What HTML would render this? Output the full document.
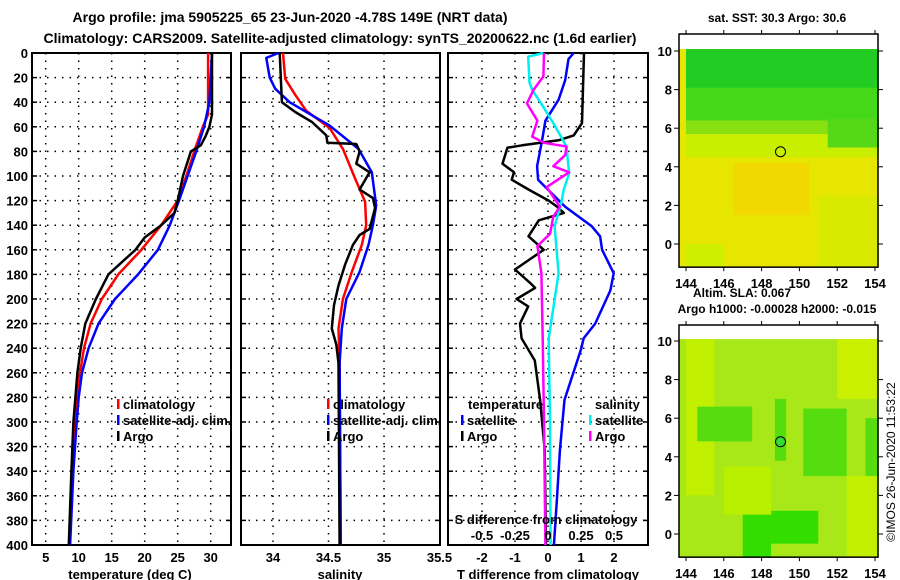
<!DOCTYPE html>
<html><head><meta charset="utf-8"><style>
body{margin:0;background:#fff;}
svg{display:block;font-family:"Liberation Sans",sans-serif;font-weight:bold;}
</style></head><body>
<svg id="c" width="900" height="580" viewBox="0 0 900 580">
<text x="290" y="22" font-size="14" text-anchor="middle">Argo profile: jma 5905225_65 23-Jun-2020 -4.78S 149E (NRT data)</text>
<text x="340" y="43" font-size="14" text-anchor="middle">Climatology: CARS2009. Satellite-adjusted climatology: synTS_20200622.nc (1.6d earlier)</text>
</svg>
<script>
// ---- data ----
const depthTicks=[0,20,40,60,80,100,120,140,160,180,200,220,240,260,280,300,320,340,360,380,400];
const tTicks=[5,10,15,20,25,30];
const sTicks=[34,34.5,35,35.5];
const dTicks=[-2,-1,0,1,2];
const sdTicks=[-0.5,-0.25,0,0.25,0.5];
const sdLabels=["-0.5","-0.25","0","0.25","0.5"];
// temperature profiles [depth, value]
const tArgoD=[0,50,60,68,75,80,100,120,130,140,150,160,180,200,220,240,260,280,300,340,400];
const tArgoV=[30.2,30.2,29.8,29.2,28.5,27,25.8,25,24.5,22.5,20,18.6,14.5,12.6,11,10.3,9.8,9.5,9.2,8.9,8.5];
const tClimD=[0,50,60,80,100,120,140,160,180,200,220,240,260,280,300,340,400];
const tClimV=[29.6,29.6,28.8,27.5,26.3,25,22.5,19.5,16,13.5,11.8,10.8,10.2,9.8,9.5,9.1,8.6];
const tSatD=[0,20,40,60,80,100,120,140,160,180,200,220,240,260,280,300,340,400];
const tSatV=[30.2,30,29.8,29,27.8,26.5,25.2,23.8,22,19,15.5,13,11.5,10.5,10,9.7,9.2,8.7];
// salinity profiles
const sArgoD=[0,40,48,56,67,73,74,80,90,97,111,118,126,143,148,156,172,189,205,224,237,252,400];
const sArgoV=[34.06,34.08,34.2,34.35,34.48,34.49,34.75,34.78,34.75,34.87,34.78,34.9,34.92,34.87,34.78,34.72,34.65,34.59,34.55,34.53,34.57,34.59,34.6];
const sClimD=[0,21,34,47,61,78,102,121,140,156,178,200,224,252,400];
const sClimV=[34.09,34.11,34.2,34.3,34.51,34.63,34.74,34.83,34.84,34.8,34.71,34.63,34.59,34.6,34.61];
const sSatD=[0,4,20,29,40,59,78,97,124,140,156,178,200,224,252,400];
const sSatV=[34.05,33.94,33.97,34.02,34.15,34.51,34.77,34.89,34.93,34.9,34.86,34.78,34.66,34.62,34.6,34.61];
// differences
const dTArgoD=[0,57,67,71,75,77,90,97,103,111,120,125,130,136,149,160,176,188,191,200,206,220,232,250,282,323,400];
const dTArgoV=[1.09,1.03,0.78,0.32,-0.78,-1.23,-1.38,-1.03,-1.1,-0.59,0.02,0.28,0.48,-0.28,-0.59,-0.13,-1.0,-0.5,-0.39,-0.95,-0.6,-0.85,-0.8,-0.4,-0.24,-0.1,-0.06];
const dTSatD=[0,5,22,38,55,71,92,103,109,125,141,149,160,179,193,220,232,241,282,323,363,400];
const dTSatV=[0.78,0.62,0.52,0.32,-0.08,-0.18,-0.33,-0.3,-0.08,0.52,1.33,1.58,1.64,1.99,1.89,1.43,1.08,1.0,0.5,0.36,0.27,0.18];
const dSSatD=[0,3,24,30,44,57,76,98,111,122,141,179,232,300,400];
const dSSatV=[-0.035,-0.15,-0.14,-0.12,-0.035,0.04,0.14,0.16,0.12,0.1,0.05,0.08,0.005,0.015,0.02];
const dSArgoD=[0,19,30,41,55,68,73,76,83,92,97,109,125,133,147,157,179,232,300,400];
const dSArgoV=[-0.03,-0.035,-0.11,-0.16,-0.08,-0.12,-0.03,0.14,0.13,0.04,0.16,-0.01,0.09,0.04,0.015,-0.08,-0.05,-0.04,-0.03,-0.02];
const mapLonTicks=[144,146,148,150,152,154];
const mapLatTicks=[0,2,4,6,8,10];

const svg=document.getElementById('c');
const NS='http://www.w3.org/2000/svg';
function mk(tag,attrs,parent){const e=document.createElementNS(NS,tag);for(const k in attrs)e.setAttribute(k,attrs[k]);(parent||svg).appendChild(e);return e;}
const yD=d=>53+d*1.23;
const xT=t=>45.7+(t-5)*6.6;
const xS=s=>273+(s-34)*111;
const xDT=v=>548+v*33;
const xDS=v=>548+v*132;
const TOP=53,BOT=545;

function panel(name,x0,x1,ticks,xf,labels,title,tcx,yl){
  const g=mk('g',{});
  
  
  depthTicks.forEach(d=>{if(d>0&&d<400){const l=mk('line',{x1:x0,x2:x1,y1:yD(d),y2:yD(d),stroke:'#000','stroke-dasharray':'1.5,6','stroke-width':1.5},g);}
    mk('line',{x1:x0,x2:x0+5,y1:yD(d),y2:yD(d),stroke:'#000','stroke-width':1.5},g);mk('line',{x1:x1-5,x2:x1,y1:yD(d),y2:yD(d),stroke:'#000','stroke-width':1.5},g);
    if(yl){const t=mk('text',{x:28,y:yD(d)+5,'font-size':13,'text-anchor':'end'},g);t.textContent=d;}});
  ticks.forEach((v,i)=>{const x=xf(v);if(x>x0+2&&x<x1-2){const l=mk('line',{x1:x,x2:x,y1:TOP,y2:BOT,stroke:'#000','stroke-dasharray':'1.5,6','stroke-width':1.5},g);}
    const t=mk('text',{x:x,y:562,'font-size':13,'text-anchor':'middle'},g);t.textContent=labels[i];});
  const r=mk('rect',{x:x0,y:TOP,width:x1-x0,height:BOT-TOP,fill:'none',stroke:'#000','stroke-width':2},g);
  
  const tt=mk('text',{x:tcx,y:579,'font-size':13,'text-anchor':'middle'},g);tt.textContent=title;
  
  return g;
}
function line(name,D,V,xf,color,g){
  const p=mk('path',{d:D.map((d,i)=>(i?'L':'M')+xf(V[i]).toFixed(1)+','+yD(d).toFixed(1)).join(''),fill:'none',stroke:color,'stroke-width':2.5,'stroke-linejoin':'round'},g);
  
}
function leg(name,x,y,color,text){
  if(color){const b=mk('rect',{x:x,y:y-10,width:2.5,height:10,fill:color});}
  const t=mk('text',{x:x+6,y:y,'font-size':13});t.textContent=text;
}
const tl=tTicks.map(String);
const g1=panel('temperature-panel',32,231,tTicks,xT,tl,'temperature (deg C)',130,true);
line('temp-climatology-line',tClimD,tClimV,xT,'#f00',g1);
line('temp-satellite-line',tSatD,tSatV,xT,'#00f',g1);
line('temp-argo-line',tArgoD,tArgoV,xT,'#000',g1);
leg('legend-climatology',117,409,'#f00','climatology');
leg('legend-satellite-adj',117,425,'#00f','satellite-adj. clim.');
leg('legend-argo',117,441,'#000','Argo');

const g2=panel('salinity-panel',241,440,sTicks,xS,sTicks.map(String),'salinity',340,false);
line('sal-climatology-line',sClimD,sClimV,xS,'#f00',g2);
line('sal-satellite-line',sSatD,sSatV,xS,'#00f',g2);
line('sal-argo-line',sArgoD,sArgoV,xS,'#000',g2);
leg('legend2-climatology',327,409,'#f00','climatology');
leg('legend2-satellite-adj',327,425,'#00f','satellite-adj. clim.');
leg('legend2-argo',327,441,'#000','Argo');

const g3=panel('difference-panel',448,648,dTicks,xDT,dTicks.map(String),'T difference from climatology',548,false);
line('dt-satellite-line',dTSatD,dTSatV,xDT,'#00f',g3);
line('dt-argo-line',dTArgoD,dTArgoV,xDT,'#000',g3);
line('ds-satellite-line',dSSatD,dSSatV,xDS,'#0ee',g3);
line('ds-argo-line',dSArgoD,dSArgoV,xDS,'#f0f',g3);
leg('legend3-temperature',462,409,null,'temperature');
leg('legend3-t-satellite',461,425,'#00f','satellite');
leg('legend3-t-argo',461,441,'#000','Argo');
leg('legend3-salinity',589,409,null,'salinity');
leg('legend3-s-satellite',589,425,'#0ee','satellite');
leg('legend3-s-argo',589,441,'#f0f','Argo');
{const t=mk('text',{x:546,y:524,'font-size':13,'text-anchor':'middle'});t.textContent='S difference from climatology';}
sdTicks.forEach((v,i)=>{const t=mk('text',{x:xDS(v),y:540,'font-size':13,'text-anchor':'middle'});t.textContent=sdLabels[i];});

// maps
const xL=lo=>686+(lo-144)*18.9;
function map(name,top,latZero,blocks,circleFill,title,titleY){
  const g=mk('g',{});
  const yL=la=>latZero-la*19.3;
  const bottom=yL(-1.2);
  mk('rect',{x:679,y:yL(10.1),width:199,height:bottom-yL(10.1),fill:blocks[0]},g);
  blocks[1].forEach(b=>{const r=mk('rect',{x:xL(b[0]),y:yL(b[3]),width:xL(b[1])-xL(b[0]),height:yL(b[2])-yL(b[3]),fill:b[4]},g);});
  mk('rect',{x:679,y:top,width:199,height:bottom-top,fill:'none',stroke:'#000','stroke-width':1.5},g);
  mapLatTicks.forEach(la=>{mk('line',{x1:679,x2:674,y1:yL(la),y2:yL(la),stroke:'#000'},g);mk('line',{x1:878,x2:883,y1:yL(la),y2:yL(la),stroke:'#000'},g);
    const t=mk('text',{x:672,y:yL(la)+5,'font-size':13,'text-anchor':'end'},g);t.textContent=la;});
  mapLonTicks.forEach(lo=>{mk('line',{x1:xL(lo),x2:xL(lo),y1:top,y2:top-4,stroke:'#000'},g);mk('line',{x1:xL(lo),x2:xL(lo),y1:bottom,y2:bottom+4,stroke:'#000'},g);
    const t=mk('text',{x:xL(lo),y:bottom+21,'font-size':13,'text-anchor':'middle'},g);t.textContent=lo;});
  const c=mk('circle',{cx:xL(149),cy:yL(4.78),r:5,fill:circleFill,stroke:'#000','stroke-width':1},g);
  
  const t=mk('text',{x:777,y:titleY,'font-size':12,'text-anchor':'middle'});t.textContent=title;
}
map('sst-map',34,244,['#e6e600',[
 [144,154.2,4.5,5.8,'#c8ee00'],[144,154.2,5.7,6.5,'#88e010'],[144,154.2,6.4,8.2,'#44d818'],[144,154.2,8.1,10.1,'#22cc22'],
 [151.5,154.2,5,6.5,'#55d818'],[146.5,150.5,1.5,4.2,'#f0d800'],[144,146,-1.2,0,'#d0ee00'],[151,154.2,-1.2,2.5,'#d8ea00']
]],'none','sat. SST: 30.3 Argo: 30.6',22);
{const t=mk('text',{x:742,y:297,'font-size':12,'text-anchor':'middle'});t.textContent='Altim. SLA: 0.067';}
map('sla-map',325,534,['#a8e818',[
 [144,145.5,2,10.1,'#c0f000'],[152,154.2,7,10.1,'#c8f000'],[152.5,154.2,-1.2,3,'#c0f000'],[146,148.5,1,3.5,'#b8f000'],
 [144.6,147.5,4.8,6.6,'#55dd10'],[150.2,152.5,3,6.5,'#55dd10'],[148.5,151,-0.5,1.2,'#33dd00'],[147,148.5,-1.2,1,'#33dd00'],
 [148.7,149.3,3.8,7,'#55dd10'],[153.5,154.2,3,6,'#55dd10']
]],'#33dd33','Argo h1000: -0.00028 h2000: -0.015',313);
{const t=mk('text',{x:0,y:0,'font-size':12,'text-anchor':'middle',transform:'translate(895,462) rotate(-90)','font-weight':'normal'});t.textContent='©IMOS 26-Jun-2020 11:53:22';}
</script>
</body></html>
